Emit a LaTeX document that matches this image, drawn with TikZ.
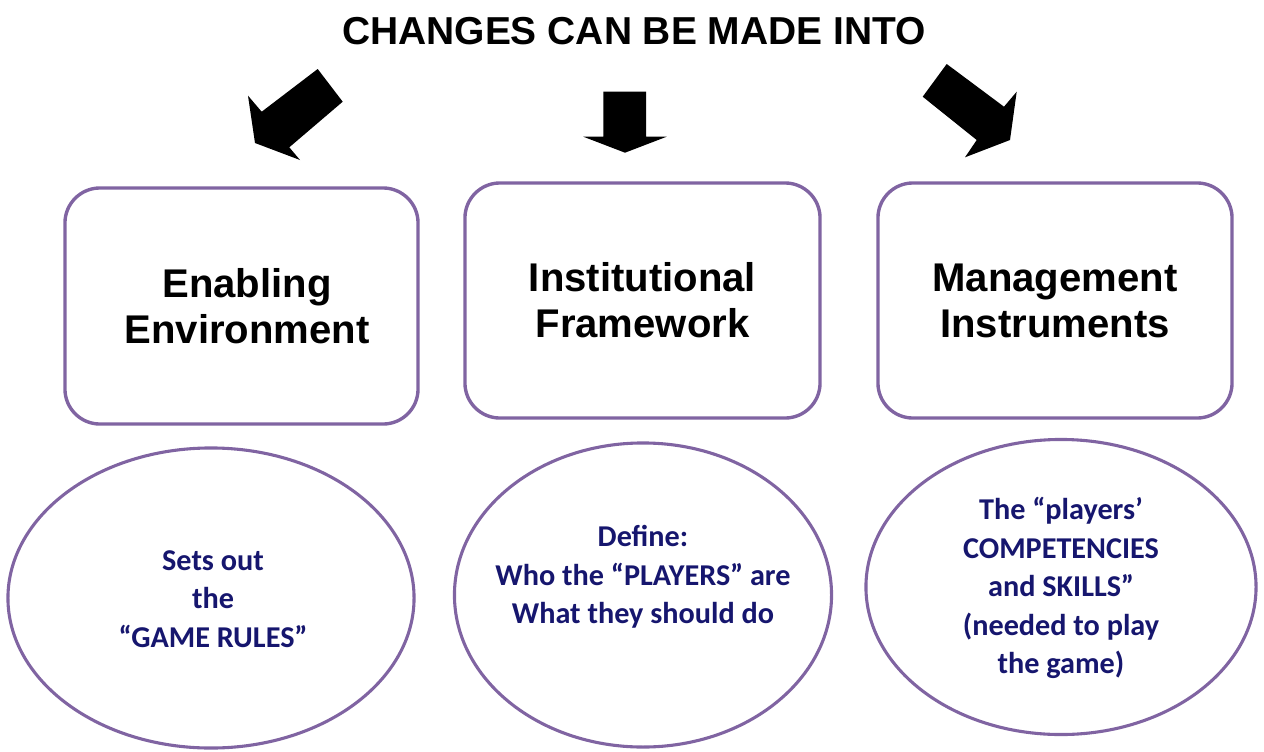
\documentclass[tikz,border=0pt]{standalone}
\usepackage{fontspec}
\setmainfont{Liberation Sans}
\newfontfamily\calibri{Carlito}
\usetikzlibrary{shapes, shapes.geometric}
\definecolor{boxpurple}{RGB}{128,100,162}
\definecolor{ovaltext}{RGB}{22,22,110}

\tikzset{
  box/.style={draw=boxpurple, line width=2.4pt, rounded corners=0.875cm,
    align=center, font=\fontsize{28.5}{32.7}\selectfont\bfseries},
  oval/.style={draw=boxpurple, line width=2.2pt, ellipse, inner sep=0pt},
  ovaltext/.style={align=center, text=ovaltext, inner sep=0pt,
    font=\calibri\fontsize{21.5}{27.4}\selectfont\bfseries},
  headline/.style={font=\fontsize{27.7}{30}\selectfont\bfseries}
}

\begin{document}
\begin{tikzpicture}[x=0.025cm, y=-0.025cm]
            \useasboundingbox (0,0) rectangle (1264,751);

            \node[headline] (title) at (634, 31) {CHANGES CAN BE MADE INTO};

            % block arrows
            \fill (317.7,69) -- (261.7,111.7) -- (248,95.7) -- (255,143)
                  -- (300,160) -- (289.3,147.3) -- (342.7,101.7) -- cycle;
            \fill (603.3,91.7) -- (603.3,136.7) -- (583.3,136.7) -- (625,152.7)
                  -- (666.7,136.7) -- (646,136.7) -- (646,91.7) -- cycle;
            \fill (946.7,64) -- (1004,106.7) -- (1016.7,91.7) -- (1010,140)
                  -- (965,157.3) -- (976.7,140) -- (922.7,96.7) -- cycle;

            % boxes
            \node[box, minimum width=8.825cm, minimum height=5.9cm] (env) at (241.5, 306) {};
            \node[box, minimum width=8.875cm, minimum height=5.875cm] (inst) at (642.5, 300.5) {Institutional\\Framework};
            \node[box, minimum width=8.85cm, minimum height=5.875cm] (mgmt) at (1055, 300.5) {Management\\Instruments};
            \node[box, draw=none] (envtext) at (247, 306) {Enabling\\Environment};

            % ovals
            \node[oval, minimum width=10.15cm, minimum height=7.5cm] (rules) at (211, 598) {};
            \node[oval, minimum width=9.425cm, minimum height=7.6cm] (players) at (643, 595) {};
            \node[oval, minimum width=9.75cm, minimum height=7.375cm] (skills) at (1061, 587) {};

            \node[ovaltext] (rulestext) at (213, 599) {Sets out\\the\\“GAME RULES”};
            \node[ovaltext] (playerstext) at (643, 577) {Define:\\Who the “PLAYERS” are\\What they should do};
            \node[ovaltext] (skillstext) at (1061, 588) {The “players’\\COMPETENCIES\\and SKILLS”\\(needed to play\\the game)};
\end{tikzpicture}
\end{document}
